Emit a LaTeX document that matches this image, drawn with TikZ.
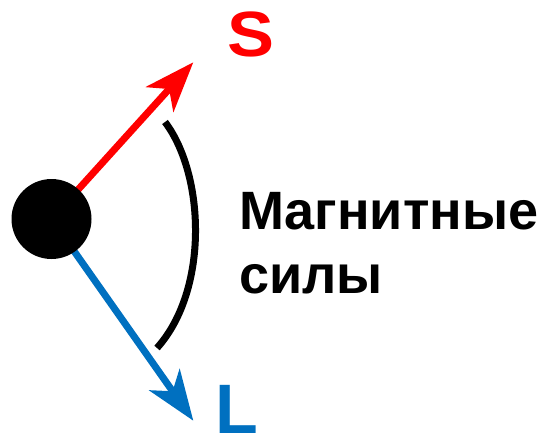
\documentclass[tikz,border=0pt]{standalone}
\usepackage{fontspec}
\setmainfont{Liberation Sans}
\usetikzlibrary{arrows.meta,backgrounds}
\definecolor{sred}{HTML}{FF0000}
\definecolor{lblue}{HTML}{0070C0}
\begin{document}
\begin{tikzpicture}[x=1pt,y=-1pt,
  vec/.style={line width=7pt,-{Stealth[length=50pt,width=37pt,inset=14pt]}},
  txt/.style={inner sep=0pt,font=\bfseries\fontsize{54}{54}\selectfont,anchor=base west},
  big/.style={inner sep=0pt,font=\bfseries\fontsize{#1}{#1}\selectfont}]
\useasboundingbox (0,0) rectangle (541,442);
\node[circle,fill=black,minimum size=80pt,inner sep=0pt] (dot) at (51.5,219) {};
\coordinate (stip) at (193.3,62.3);
\coordinate (ltip) at (193.3,420.7);
\coordinate (atop) at (165,122);
\coordinate (abot) at (157,348);
\begin{scope}[on background layer]
  \draw[vec,sred] (dot.center) -- (stip);
  \draw[vec,lblue] (dot.center) -- (ltip);
\end{scope}
\draw[line width=7pt] (atop) .. controls (205,175) and (209,290) .. (abot);
\node[big=64,text=sred,xscale=1.1] (S) at (251,34.5) {S};
\node[big=70,text=lblue] (L) at (237,409) {L};
\node[txt] (t1) at (239,229) {Магнитные};
\node[txt] (t2) at (239,293) {силы};
\end{tikzpicture}
\end{document}
